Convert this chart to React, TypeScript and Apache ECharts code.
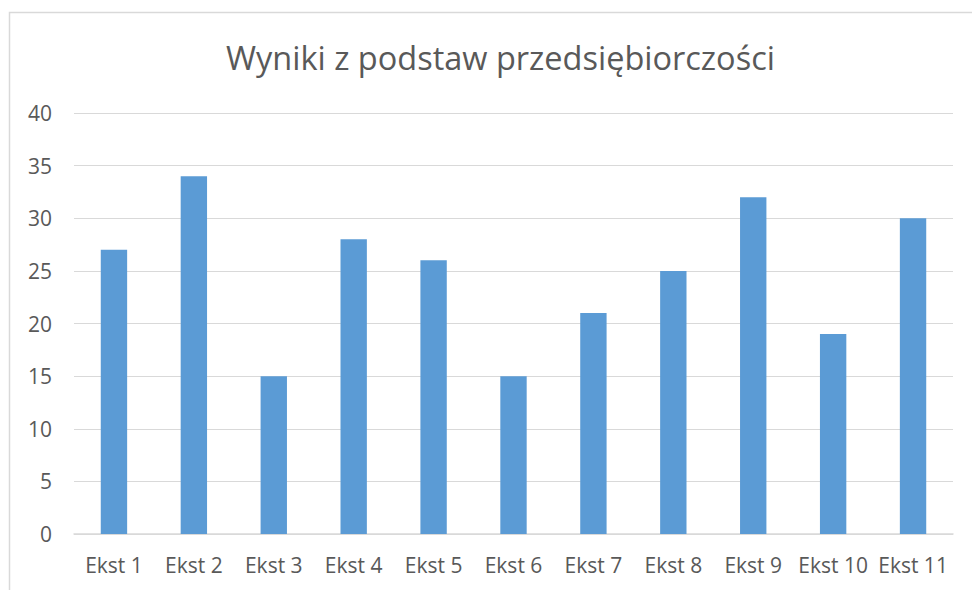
import React, { useEffect, useRef } from "react";
import * as echarts from "echarts";

const categories = ["Ekst 1", "Ekst 2", "Ekst 3", "Ekst 4", "Ekst 5", "Ekst 6", "Ekst 7", "Ekst 8", "Ekst 9", "Ekst 10", "Ekst 11"];
const values = [27, 34, 15, 28, 26, 15, 21, 25, 32, 19, 30];
const titleText = "Wyniki z podstaw przedsiębiorczości";

export default function App() {
  const ref = useRef<HTMLDivElement>(null);
  useEffect(() => {
    if (!ref.current) return;
    const chart = echarts.init(ref.current, null, { renderer: "svg" });
    const font = "'Open Sans', 'Noto Sans', sans-serif";
    chart.setOption({
      animation: false,
      backgroundColor: "#ffffff",
      textStyle: { fontFamily: font },
      title: {
        text: titleText,
        left: 221,
        top: 36,
        textStyle: { fontFamily: font, fontSize: 32.5, fontWeight: "normal", color: "#595959" },
      },
      graphic: [
        {
          type: "rect",
          shape: { x: 9.5, y: 12.5, width: 1200, height: 1200 },
          style: { fill: "none", stroke: "#d9d9d9", lineWidth: 1.5 },
          silent: true,
        },
      ],
      grid: { left: 74, right: 19, top: 113, bottom: 56, containLabel: false },
      xAxis: {
        type: "category",
        data: categories,
        axisLine: { lineStyle: { color: "#d9d9d9", width: 1.5 } },
        axisTick: { show: false },
        axisLabel: { color: "#595959", fontSize: 21, margin: 20, interval: 0, fontFamily: font },
      },
      yAxis: {
        type: "value",
        min: 0,
        max: 40,
        interval: 5,
        axisLine: { show: false },
        axisTick: { show: false },
        splitLine: { lineStyle: { color: "#d9d9d9", width: 1.2 } },
        axisLabel: { color: "#595959", fontSize: 21, margin: 22, fontFamily: font },
      },
      series: [
        {
          type: "bar",
          data: values,
          barWidth: "33%",
          itemStyle: { color: "#5B9BD5" },
        },
      ],
    });
    return () => chart.dispose();
  }, []);
  return <div ref={ref} style={{ position: "fixed", left: 0, top: 0, width: 972, height: 590 }} />;
}
